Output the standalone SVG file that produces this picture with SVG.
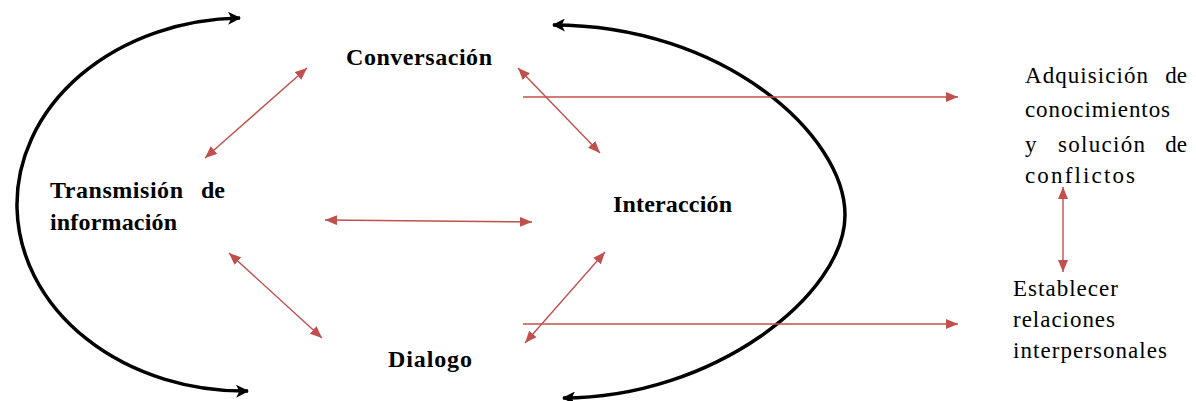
<svg xmlns="http://www.w3.org/2000/svg" width="1196" height="401" viewBox="0 0 1196 401">
<style>
.b{font-family:"Liberation Serif","Times New Roman",serif;font-weight:bold;font-size:24px;fill:#000}
.r{font-family:"Liberation Serif","Times New Roman",serif;font-size:23px;fill:#000}
.arc{fill:none;stroke:#000;stroke-width:3.5}
.red{fill:none;stroke:#C0504D;stroke-width:1.4}
</style>
<defs>
<marker id="bk" viewBox="0 0 12 12" refX="11" refY="6" markerWidth="13" markerHeight="13" markerUnits="userSpaceOnUse" orient="auto-start-reverse">
<path d="M0,0 L12,6 L0,12 L3,6 Z" fill="#000"/>
</marker>
<marker id="rd" viewBox="0 0 12 10" refX="12" refY="5" markerWidth="12" markerHeight="10" markerUnits="userSpaceOnUse" orient="auto-start-reverse">
<path d="M0,0 L12,5 L0,10 Z" fill="#C0504D"/>
</marker>
</defs>
<g id="connectors">
<path class="arc" d="M240,18 A227,186.5 0 0 0 248,391" marker-start="url(#bk)" marker-end="url(#bk)"/>
<path class="arc" d="M553,25 C723,25 845,135 845,215 C845,295 713,398 563,398" marker-start="url(#bk)" marker-end="url(#bk)"/>
<line class="red" x1="307" y1="68" x2="205" y2="158" marker-start="url(#rd)" marker-end="url(#rd)"/>
<line class="red" x1="518" y1="68" x2="600" y2="153" marker-start="url(#rd)" marker-end="url(#rd)"/>
<line class="red" x1="325" y1="220" x2="532" y2="222" marker-start="url(#rd)" marker-end="url(#rd)"/>
<line class="red" x1="229" y1="253" x2="322" y2="338" marker-start="url(#rd)" marker-end="url(#rd)"/>
<line class="red" x1="605" y1="252" x2="525" y2="343" marker-start="url(#rd)" marker-end="url(#rd)"/>
<line class="red" x1="523" y1="97" x2="958" y2="97" marker-end="url(#rd)"/>
<line class="red" x1="523" y1="324" x2="958" y2="324" marker-end="url(#rd)"/>
<line class="red" x1="1063" y1="187" x2="1063" y2="272" marker-start="url(#rd)" marker-end="url(#rd)"/>
</g>
<g id="conversacion"><text class="b" x="346" y="65" textLength="146" lengthAdjust="spacing">Conversación</text></g>
<g id="transmision">
<text class="b" x="50" y="198" textLength="133" lengthAdjust="spacing">Transmisión</text>
<text class="b" x="225" y="198" text-anchor="end">de</text>
<text class="b" x="50" y="230" textLength="127" lengthAdjust="spacing">información</text>
</g>
<g id="interaccion"><text class="b" x="613" y="212" textLength="119" lengthAdjust="spacing">Interacción</text></g>
<g id="dialogo"><text class="b" x="388" y="367" textLength="84" lengthAdjust="spacing">Dialogo</text></g>
<g id="adquisicion">
<text class="r" x="1025" y="83" textLength="123" lengthAdjust="spacing">Adquisición</text>
<text class="r" x="1187" y="83" text-anchor="end">de</text>
<text class="r" x="1025" y="117" textLength="145" lengthAdjust="spacing">conocimientos</text>
<text class="r" x="1025" y="152">y</text>
<text class="r" x="1058" y="152" textLength="87" lengthAdjust="spacing">solución</text>
<text class="r" x="1187" y="152" text-anchor="end">de</text>
<text class="r" x="1025" y="183" textLength="110" lengthAdjust="spacing">conflictos</text>
</g>
<g id="establecer">
<text class="r" x="1013" y="296" textLength="105" lengthAdjust="spacing">Establecer</text>
<text class="r" x="1013" y="327" textLength="102" lengthAdjust="spacing">relaciones</text>
<text class="r" x="1013" y="358" textLength="154" lengthAdjust="spacing">interpersonales</text>
</g>
</svg>
